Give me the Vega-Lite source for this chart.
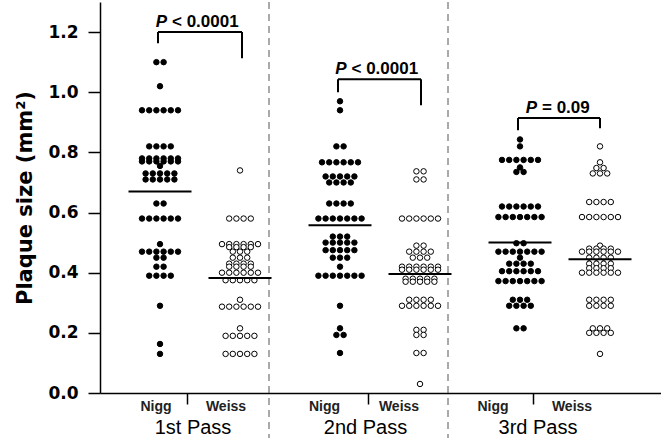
{
"$schema":"https://vega.github.io/schema/vega-lite/v6.json",
"width":561,"height":391,
"autosize":{"type":"none"},
"padding":{"left":100,"top":2,"right":0,"bottom":45},
"background":"white",
"config":{"view":{"stroke":null},"font":"Liberation Sans"},
"datasets":{
"dots":[
{"pass":1,"method":"Nigg","size":1.1},{"pass":1,"method":"Nigg","size":1.1},{"pass":1,"method":"Nigg","size":1.02},
{"pass":1,"method":"Nigg","size":0.94},{"pass":1,"method":"Nigg","size":0.94},{"pass":1,"method":"Nigg","size":0.94},{"pass":1,"method":"Nigg","size":0.94},{"pass":1,"method":"Nigg","size":0.94},{"pass":1,"method":"Nigg","size":0.94},
{"pass":1,"method":"Nigg","size":0.82},{"pass":1,"method":"Nigg","size":0.82},{"pass":1,"method":"Nigg","size":0.82},{"pass":1,"method":"Nigg","size":0.82},
{"pass":1,"method":"Nigg","size":0.78},{"pass":1,"method":"Nigg","size":0.78},{"pass":1,"method":"Nigg","size":0.78},{"pass":1,"method":"Nigg","size":0.78},{"pass":1,"method":"Nigg","size":0.78},{"pass":1,"method":"Nigg","size":0.78},
{"pass":1,"method":"Nigg","size":0.77},{"pass":1,"method":"Nigg","size":0.77},{"pass":1,"method":"Nigg","size":0.77},{"pass":1,"method":"Nigg","size":0.77},{"pass":1,"method":"Nigg","size":0.77},{"pass":1,"method":"Nigg","size":0.77},
{"pass":1,"method":"Nigg","size":0.755},
{"pass":1,"method":"Nigg","size":0.73},{"pass":1,"method":"Nigg","size":0.73},{"pass":1,"method":"Nigg","size":0.73},{"pass":1,"method":"Nigg","size":0.73},{"pass":1,"method":"Nigg","size":0.73},
{"pass":1,"method":"Nigg","size":0.71},{"pass":1,"method":"Nigg","size":0.71},{"pass":1,"method":"Nigg","size":0.71},{"pass":1,"method":"Nigg","size":0.71},{"pass":1,"method":"Nigg","size":0.71},
{"pass":1,"method":"Nigg","size":0.63},{"pass":1,"method":"Nigg","size":0.63},
{"pass":1,"method":"Nigg","size":0.58},{"pass":1,"method":"Nigg","size":0.58},{"pass":1,"method":"Nigg","size":0.58},{"pass":1,"method":"Nigg","size":0.58},{"pass":1,"method":"Nigg","size":0.58},{"pass":1,"method":"Nigg","size":0.58},
{"pass":1,"method":"Nigg","size":0.495},
{"pass":1,"method":"Nigg","size":0.47},{"pass":1,"method":"Nigg","size":0.47},{"pass":1,"method":"Nigg","size":0.47},{"pass":1,"method":"Nigg","size":0.47},{"pass":1,"method":"Nigg","size":0.47},{"pass":1,"method":"Nigg","size":0.47},
{"pass":1,"method":"Nigg","size":0.45},{"pass":1,"method":"Nigg","size":0.45},
{"pass":1,"method":"Nigg","size":0.42},{"pass":1,"method":"Nigg","size":0.42},
{"pass":1,"method":"Nigg","size":0.39},{"pass":1,"method":"Nigg","size":0.39},{"pass":1,"method":"Nigg","size":0.39},{"pass":1,"method":"Nigg","size":0.39},
{"pass":1,"method":"Nigg","size":0.29},{"pass":1,"method":"Nigg","size":0.163},{"pass":1,"method":"Nigg","size":0.13},

{"pass":1,"method":"Weiss","size":0.74},
{"pass":1,"method":"Weiss","size":0.58},{"pass":1,"method":"Weiss","size":0.58},{"pass":1,"method":"Weiss","size":0.58},{"pass":1,"method":"Weiss","size":0.58},
{"pass":1,"method":"Weiss","size":0.495},{"pass":1,"method":"Weiss","size":0.495},{"pass":1,"method":"Weiss","size":0.495},{"pass":1,"method":"Weiss","size":0.495},{"pass":1,"method":"Weiss","size":0.495},{"pass":1,"method":"Weiss","size":0.495},
{"pass":1,"method":"Weiss","size":0.485},{"pass":1,"method":"Weiss","size":0.485},{"pass":1,"method":"Weiss","size":0.485},{"pass":1,"method":"Weiss","size":0.485},
{"pass":1,"method":"Weiss","size":0.47},{"pass":1,"method":"Weiss","size":0.47},{"pass":1,"method":"Weiss","size":0.47},
{"pass":1,"method":"Weiss","size":0.45},{"pass":1,"method":"Weiss","size":0.45},{"pass":1,"method":"Weiss","size":0.45},
{"pass":1,"method":"Weiss","size":0.43},{"pass":1,"method":"Weiss","size":0.43},{"pass":1,"method":"Weiss","size":0.43},{"pass":1,"method":"Weiss","size":0.43},
{"pass":1,"method":"Weiss","size":0.42},{"pass":1,"method":"Weiss","size":0.42},{"pass":1,"method":"Weiss","size":0.42},{"pass":1,"method":"Weiss","size":0.42},
{"pass":1,"method":"Weiss","size":0.4},{"pass":1,"method":"Weiss","size":0.4},{"pass":1,"method":"Weiss","size":0.4},{"pass":1,"method":"Weiss","size":0.4},{"pass":1,"method":"Weiss","size":0.4},{"pass":1,"method":"Weiss","size":0.4},
{"pass":1,"method":"Weiss","size":0.375},{"pass":1,"method":"Weiss","size":0.375},{"pass":1,"method":"Weiss","size":0.375},{"pass":1,"method":"Weiss","size":0.375},{"pass":1,"method":"Weiss","size":0.375},
{"pass":1,"method":"Weiss","size":0.31},
{"pass":1,"method":"Weiss","size":0.287},{"pass":1,"method":"Weiss","size":0.287},{"pass":1,"method":"Weiss","size":0.287},{"pass":1,"method":"Weiss","size":0.287},{"pass":1,"method":"Weiss","size":0.287},{"pass":1,"method":"Weiss","size":0.287},
{"pass":1,"method":"Weiss","size":0.215},
{"pass":1,"method":"Weiss","size":0.19},{"pass":1,"method":"Weiss","size":0.19},{"pass":1,"method":"Weiss","size":0.19},{"pass":1,"method":"Weiss","size":0.19},{"pass":1,"method":"Weiss","size":0.19},
{"pass":1,"method":"Weiss","size":0.13},{"pass":1,"method":"Weiss","size":0.13},{"pass":1,"method":"Weiss","size":0.13},{"pass":1,"method":"Weiss","size":0.13},{"pass":1,"method":"Weiss","size":0.13},

{"pass":2,"method":"Nigg","size":0.97},{"pass":2,"method":"Nigg","size":0.94},
{"pass":2,"method":"Nigg","size":0.82},{"pass":2,"method":"Nigg","size":0.82},
{"pass":2,"method":"Nigg","size":0.767},{"pass":2,"method":"Nigg","size":0.767},{"pass":2,"method":"Nigg","size":0.767},{"pass":2,"method":"Nigg","size":0.767},{"pass":2,"method":"Nigg","size":0.767},{"pass":2,"method":"Nigg","size":0.767},
{"pass":2,"method":"Nigg","size":0.72},{"pass":2,"method":"Nigg","size":0.72},{"pass":2,"method":"Nigg","size":0.72},{"pass":2,"method":"Nigg","size":0.72},{"pass":2,"method":"Nigg","size":0.72},
{"pass":2,"method":"Nigg","size":0.7},{"pass":2,"method":"Nigg","size":0.7},{"pass":2,"method":"Nigg","size":0.7},{"pass":2,"method":"Nigg","size":0.7},
{"pass":2,"method":"Nigg","size":0.63},{"pass":2,"method":"Nigg","size":0.63},{"pass":2,"method":"Nigg","size":0.63},{"pass":2,"method":"Nigg","size":0.63},
{"pass":2,"method":"Nigg","size":0.58},{"pass":2,"method":"Nigg","size":0.58},{"pass":2,"method":"Nigg","size":0.58},{"pass":2,"method":"Nigg","size":0.58},{"pass":2,"method":"Nigg","size":0.58},{"pass":2,"method":"Nigg","size":0.58},{"pass":2,"method":"Nigg","size":0.58},
{"pass":2,"method":"Nigg","size":0.52},{"pass":2,"method":"Nigg","size":0.52},{"pass":2,"method":"Nigg","size":0.52},
{"pass":2,"method":"Nigg","size":0.5},{"pass":2,"method":"Nigg","size":0.5},{"pass":2,"method":"Nigg","size":0.5},{"pass":2,"method":"Nigg","size":0.5},{"pass":2,"method":"Nigg","size":0.5},
{"pass":2,"method":"Nigg","size":0.475},{"pass":2,"method":"Nigg","size":0.475},{"pass":2,"method":"Nigg","size":0.475},{"pass":2,"method":"Nigg","size":0.475},{"pass":2,"method":"Nigg","size":0.475},
{"pass":2,"method":"Nigg","size":0.45},{"pass":2,"method":"Nigg","size":0.45},{"pass":2,"method":"Nigg","size":0.45},
{"pass":2,"method":"Nigg","size":0.42},
{"pass":2,"method":"Nigg","size":0.39},{"pass":2,"method":"Nigg","size":0.39},{"pass":2,"method":"Nigg","size":0.39},{"pass":2,"method":"Nigg","size":0.39},{"pass":2,"method":"Nigg","size":0.39},{"pass":2,"method":"Nigg","size":0.39},{"pass":2,"method":"Nigg","size":0.39},
{"pass":2,"method":"Nigg","size":0.29},{"pass":2,"method":"Nigg","size":0.215},{"pass":2,"method":"Nigg","size":0.193},{"pass":2,"method":"Nigg","size":0.193},{"pass":2,"method":"Nigg","size":0.133},

{"pass":2,"method":"Weiss","size":0.737},{"pass":2,"method":"Weiss","size":0.737},{"pass":2,"method":"Weiss","size":0.71},{"pass":2,"method":"Weiss","size":0.71},
{"pass":2,"method":"Weiss","size":0.58},{"pass":2,"method":"Weiss","size":0.58},{"pass":2,"method":"Weiss","size":0.58},{"pass":2,"method":"Weiss","size":0.58},{"pass":2,"method":"Weiss","size":0.58},{"pass":2,"method":"Weiss","size":0.58},
{"pass":2,"method":"Weiss","size":0.49},{"pass":2,"method":"Weiss","size":0.49},
{"pass":2,"method":"Weiss","size":0.47},{"pass":2,"method":"Weiss","size":0.47},{"pass":2,"method":"Weiss","size":0.47},{"pass":2,"method":"Weiss","size":0.47},
{"pass":2,"method":"Weiss","size":0.45},{"pass":2,"method":"Weiss","size":0.45},{"pass":2,"method":"Weiss","size":0.45},
{"pass":2,"method":"Weiss","size":0.42},{"pass":2,"method":"Weiss","size":0.42},{"pass":2,"method":"Weiss","size":0.42},{"pass":2,"method":"Weiss","size":0.42},{"pass":2,"method":"Weiss","size":0.42},{"pass":2,"method":"Weiss","size":0.42},
{"pass":2,"method":"Weiss","size":0.41},{"pass":2,"method":"Weiss","size":0.41},{"pass":2,"method":"Weiss","size":0.41},{"pass":2,"method":"Weiss","size":0.41},{"pass":2,"method":"Weiss","size":0.41},{"pass":2,"method":"Weiss","size":0.41},
{"pass":2,"method":"Weiss","size":0.38},{"pass":2,"method":"Weiss","size":0.38},{"pass":2,"method":"Weiss","size":0.38},{"pass":2,"method":"Weiss","size":0.38},{"pass":2,"method":"Weiss","size":0.38},
{"pass":2,"method":"Weiss","size":0.37},{"pass":2,"method":"Weiss","size":0.37},{"pass":2,"method":"Weiss","size":0.37},{"pass":2,"method":"Weiss","size":0.37},{"pass":2,"method":"Weiss","size":0.37},
{"pass":2,"method":"Weiss","size":0.31},{"pass":2,"method":"Weiss","size":0.31},{"pass":2,"method":"Weiss","size":0.31},{"pass":2,"method":"Weiss","size":0.31},
{"pass":2,"method":"Weiss","size":0.29},{"pass":2,"method":"Weiss","size":0.29},{"pass":2,"method":"Weiss","size":0.29},{"pass":2,"method":"Weiss","size":0.29},{"pass":2,"method":"Weiss","size":0.29},{"pass":2,"method":"Weiss","size":0.29},
{"pass":2,"method":"Weiss","size":0.21},{"pass":2,"method":"Weiss","size":0.21},{"pass":2,"method":"Weiss","size":0.193},{"pass":2,"method":"Weiss","size":0.193},
{"pass":2,"method":"Weiss","size":0.133},{"pass":2,"method":"Weiss","size":0.133},{"pass":2,"method":"Weiss","size":0.03},

{"pass":3,"method":"Nigg","size":0.843},{"pass":3,"method":"Nigg","size":0.82},
{"pass":3,"method":"Nigg","size":0.775},{"pass":3,"method":"Nigg","size":0.775},{"pass":3,"method":"Nigg","size":0.775},{"pass":3,"method":"Nigg","size":0.775},{"pass":3,"method":"Nigg","size":0.775},{"pass":3,"method":"Nigg","size":0.775},
{"pass":3,"method":"Nigg","size":0.75},{"pass":3,"method":"Nigg","size":0.735},{"pass":3,"method":"Nigg","size":0.735},
{"pass":3,"method":"Nigg","size":0.62},{"pass":3,"method":"Nigg","size":0.62},{"pass":3,"method":"Nigg","size":0.62},{"pass":3,"method":"Nigg","size":0.62},{"pass":3,"method":"Nigg","size":0.62},{"pass":3,"method":"Nigg","size":0.62},
{"pass":3,"method":"Nigg","size":0.585},{"pass":3,"method":"Nigg","size":0.585},{"pass":3,"method":"Nigg","size":0.585},{"pass":3,"method":"Nigg","size":0.585},{"pass":3,"method":"Nigg","size":0.585},{"pass":3,"method":"Nigg","size":0.585},{"pass":3,"method":"Nigg","size":0.585},
{"pass":3,"method":"Nigg","size":0.498},{"pass":3,"method":"Nigg","size":0.498},
{"pass":3,"method":"Nigg","size":0.47},{"pass":3,"method":"Nigg","size":0.47},{"pass":3,"method":"Nigg","size":0.47},{"pass":3,"method":"Nigg","size":0.47},{"pass":3,"method":"Nigg","size":0.47},{"pass":3,"method":"Nigg","size":0.47},{"pass":3,"method":"Nigg","size":0.47},
{"pass":3,"method":"Nigg","size":0.45},
{"pass":3,"method":"Nigg","size":0.43},{"pass":3,"method":"Nigg","size":0.43},{"pass":3,"method":"Nigg","size":0.43},{"pass":3,"method":"Nigg","size":0.43},
{"pass":3,"method":"Nigg","size":0.405},{"pass":3,"method":"Nigg","size":0.405},{"pass":3,"method":"Nigg","size":0.405},{"pass":3,"method":"Nigg","size":0.405},{"pass":3,"method":"Nigg","size":0.405},{"pass":3,"method":"Nigg","size":0.405},
{"pass":3,"method":"Nigg","size":0.372},{"pass":3,"method":"Nigg","size":0.372},{"pass":3,"method":"Nigg","size":0.372},{"pass":3,"method":"Nigg","size":0.372},{"pass":3,"method":"Nigg","size":0.372},{"pass":3,"method":"Nigg","size":0.372},{"pass":3,"method":"Nigg","size":0.372},
{"pass":3,"method":"Nigg","size":0.31},{"pass":3,"method":"Nigg","size":0.31},{"pass":3,"method":"Nigg","size":0.31},
{"pass":3,"method":"Nigg","size":0.29},{"pass":3,"method":"Nigg","size":0.29},{"pass":3,"method":"Nigg","size":0.29},{"pass":3,"method":"Nigg","size":0.29},
{"pass":3,"method":"Nigg","size":0.215},{"pass":3,"method":"Nigg","size":0.215},

{"pass":3,"method":"Weiss","size":0.82},{"pass":3,"method":"Weiss","size":0.767},{"pass":3,"method":"Weiss","size":0.748},{"pass":3,"method":"Weiss","size":0.748},
{"pass":3,"method":"Weiss","size":0.73},{"pass":3,"method":"Weiss","size":0.73},{"pass":3,"method":"Weiss","size":0.73},
{"pass":3,"method":"Weiss","size":0.635},{"pass":3,"method":"Weiss","size":0.635},{"pass":3,"method":"Weiss","size":0.635},{"pass":3,"method":"Weiss","size":0.635},
{"pass":3,"method":"Weiss","size":0.585},{"pass":3,"method":"Weiss","size":0.585},{"pass":3,"method":"Weiss","size":0.585},{"pass":3,"method":"Weiss","size":0.585},{"pass":3,"method":"Weiss","size":0.585},{"pass":3,"method":"Weiss","size":0.585},
{"pass":3,"method":"Weiss","size":0.49},
{"pass":3,"method":"Weiss","size":0.48},{"pass":3,"method":"Weiss","size":0.48},{"pass":3,"method":"Weiss","size":0.48},{"pass":3,"method":"Weiss","size":0.48},
{"pass":3,"method":"Weiss","size":0.47},{"pass":3,"method":"Weiss","size":0.47},{"pass":3,"method":"Weiss","size":0.47},{"pass":3,"method":"Weiss","size":0.47},{"pass":3,"method":"Weiss","size":0.47},{"pass":3,"method":"Weiss","size":0.47},
{"pass":3,"method":"Weiss","size":0.45},{"pass":3,"method":"Weiss","size":0.45},{"pass":3,"method":"Weiss","size":0.45},{"pass":3,"method":"Weiss","size":0.45},
{"pass":3,"method":"Weiss","size":0.43},{"pass":3,"method":"Weiss","size":0.43},{"pass":3,"method":"Weiss","size":0.43},{"pass":3,"method":"Weiss","size":0.43},
{"pass":3,"method":"Weiss","size":0.415},{"pass":3,"method":"Weiss","size":0.415},{"pass":3,"method":"Weiss","size":0.415},{"pass":3,"method":"Weiss","size":0.415},
{"pass":3,"method":"Weiss","size":0.4},{"pass":3,"method":"Weiss","size":0.4},{"pass":3,"method":"Weiss","size":0.4},{"pass":3,"method":"Weiss","size":0.4},{"pass":3,"method":"Weiss","size":0.4},{"pass":3,"method":"Weiss","size":0.4},
{"pass":3,"method":"Weiss","size":0.31},{"pass":3,"method":"Weiss","size":0.31},{"pass":3,"method":"Weiss","size":0.31},{"pass":3,"method":"Weiss","size":0.31},
{"pass":3,"method":"Weiss","size":0.29},{"pass":3,"method":"Weiss","size":0.29},{"pass":3,"method":"Weiss","size":0.29},{"pass":3,"method":"Weiss","size":0.29},
{"pass":3,"method":"Weiss","size":0.215},{"pass":3,"method":"Weiss","size":0.215},{"pass":3,"method":"Weiss","size":0.215},
{"pass":3,"method":"Weiss","size":0.2},{"pass":3,"method":"Weiss","size":0.2},{"pass":3,"method":"Weiss","size":0.2},{"pass":3,"method":"Weiss","size":0.2},
{"pass":3,"method":"Weiss","size":0.13}
],
"means":[
{"pass":1,"method":"Nigg","mean":0.67},{"pass":1,"method":"Weiss","mean":0.382},
{"pass":2,"method":"Nigg","mean":0.558},{"pass":2,"method":"Weiss","mean":0.396},
{"pass":3,"method":"Nigg","mean":0.5},{"pass":3,"method":"Weiss","mean":0.445}
],
"brackets":[
{"pass":1,"top":1.2,"left":1.163,"right":1.113,"label":"< 0.0001"},
{"pass":2,"top":1.043,"left":1.0,"right":0.957,"label":"< 0.0001"},
{"pass":3,"top":0.914,"left":0.874,"right":0.88,"label":"= 0.09"}
],
"groups":[
{"pass":1,"method":"Nigg"},{"pass":1,"method":"Weiss"},
{"pass":2,"method":"Nigg"},{"pass":2,"method":"Weiss"},
{"pass":3,"method":"Nigg"},{"pass":3,"method":"Weiss"}
],
"passes":[{"pass":1,"name":"1st Pass"},{"pass":2,"name":"2nd Pass"},{"pass":3,"name":"3rd Pass"}]
},
"layer":[
{"data":{"name":"dots"},
 "transform":[
  {"calculate":"(datum.pass-1)*180 + (datum.method == 'Weiss' ? 80 : 0) + 60","as":"pos"},
  {"window":[{"op":"row_number","as":"rank"}],"groupby":["pass","method","size"]},
  {"joinaggregate":[{"op":"count","as":"n"}],"groupby":["pass","method","size"]},
  {"calculate":"datum.pos + (datum.rank - (datum.n + 1)/2) * 7.2","as":"xv"},
  {"calculate":"datum.size","as":"yv"}
 ],
 "mark":{"type":"point","shape":"circle","filled":true,"size":30,"stroke":"black","strokeWidth":1,"opacity":1},
 "encoding":{
  "x":{"field":"xv","type":"quantitative","title":null,"scale":{"domain":[0,561],"nice":false,"zero":false},
   "axis":{"values":[87,268,433],"labels":false,"tickSize":11,"tickColor":"black","tickWidth":1.5,"domainColor":"black","domainWidth":1.5,"grid":false}},
  "y":{"field":"yv","type":"quantitative","title":"Plaque size (mm²)","scale":{"domain":[0,1.3],"nice":false,"zero":false},
   "axis":{"values":[0,0.2,0.4,0.6,0.8,1,1.2],"format":".1f","titleFont":"DejaVu Sans","titleFontSize":21,"titleFontWeight":"bold","titleColor":"black","titlePadding":12,
    "labelFont":"DejaVu Sans","labelFontSize":17,"labelFontWeight":"bold","labelColor":"black","labelPadding":10,"tickSize":12,"tickWidth":1.5,"tickColor":"black","domainColor":"black","domainWidth":1.5,"grid":false}},
  "fill":{"field":"method","type":"nominal","scale":{"domain":["Nigg","Weiss"],"range":["black","white"]},"legend":null}
 }},
{"data":{"name":"passes"},
 "transform":[{"filter":"datum.pass < 3"},{"calculate":"(datum.pass-1)*179+169","as":"xv"},{"calculate":"1.3","as":"yv"},{"calculate":"-0.15","as":"yv2"}],
 "mark":{"type":"rule","strokeDash":[7,5],"color":"#555555","strokeWidth":1},
 "encoding":{
  "x":{"field":"xv","type":"quantitative","title":null},
  "y":{"field":"yv","type":"quantitative","title":"Plaque size (mm²)"},
  "y2":{"field":"yv2"}
 }},
{"data":{"name":"means"},
 "transform":[{"calculate":"(datum.pass-1)*180 + (datum.method == 'Weiss' ? 80 : 0) + 60","as":"xv"},{"calculate":"datum.mean","as":"yv"}],
 "mark":{"type":"tick","orient":"horizontal","size":63,"thickness":2,"color":"black","opacity":1},
 "encoding":{
  "x":{"field":"xv","type":"quantitative","title":null},
  "y":{"field":"yv","type":"quantitative","title":"Plaque size (mm²)"}
 }},
{"data":{"name":"brackets"},
 "transform":[
  {"calculate":"(datum.pass-1)*180+58","as":"xv"},
  {"calculate":"(datum.pass-1)*179+142","as":"xv2"},
  {"calculate":"(datum.xv+datum.xv2)/2 - 33 + (8-length(datum.label))*5.5","as":"px"},
  {"calculate":"datum.top","as":"yv"}
 ],
 "layer":[
  {"mark":{"type":"rule","strokeWidth":2,"color":"black"},
   "encoding":{"x":{"field":"xv","type":"quantitative","title":null},"x2":{"field":"xv2"},
    "y":{"field":"yv","type":"quantitative","title":"Plaque size (mm²)"}}},
  {"mark":{"type":"rule","strokeWidth":2,"color":"black"},
   "encoding":{"x":{"field":"xv","type":"quantitative","title":null},
    "y":{"field":"yv","type":"quantitative","title":"Plaque size (mm²)"},"y2":{"field":"left"}}},
  {"mark":{"type":"rule","strokeWidth":2,"color":"black"},
   "encoding":{"x":{"field":"xv2","type":"quantitative","title":null},
    "y":{"field":"yv","type":"quantitative","title":"Plaque size (mm²)"},"y2":{"field":"right"}}},
  {"mark":{"type":"text","text":"P","align":"right","baseline":"alphabetic","dy":-5,"fontSize":17,"fontWeight":"bold","fontStyle":"italic","color":"black"},
   "encoding":{"x":{"field":"px","type":"quantitative","title":null},
    "y":{"field":"yv","type":"quantitative","title":"Plaque size (mm²)"}}},
  {"mark":{"type":"text","align":"left","baseline":"alphabetic","dx":5,"dy":-5,"fontSize":17,"fontWeight":"bold","color":"black"},
   "encoding":{"x":{"field":"px","type":"quantitative","title":null},
    "y":{"field":"yv","type":"quantitative","title":"Plaque size (mm²)"},
    "text":{"field":"label"}}}
 ]},
{"data":{"name":"groups"},
 "transform":[{"calculate":"datum.method == 'Nigg' ? (datum.pass-1)*168.5+56 : (datum.pass-1)*173+126","as":"xv"},{"calculate":"-0.06","as":"yv"}],
 "mark":{"type":"text","fontSize":14,"fontWeight":"bold","baseline":"alphabetic","align":"center","color":"#222222"},
 "encoding":{
  "x":{"field":"xv","type":"quantitative","title":null},
  "y":{"field":"yv","type":"quantitative","title":"Plaque size (mm²)"},
  "text":{"field":"method"}
 }},
{"data":{"name":"passes"},
 "transform":[{"calculate":"(datum.pass-1)*172.5+93","as":"xv"},{"calculate":"-0.136","as":"yv"}],
 "mark":{"type":"text","fontSize":20,"baseline":"alphabetic","align":"center","color":"black"},
 "encoding":{
  "x":{"field":"xv","type":"quantitative","title":null},
  "y":{"field":"yv","type":"quantitative","title":"Plaque size (mm²)"},
  "text":{"field":"name"}
 }}
]
}
